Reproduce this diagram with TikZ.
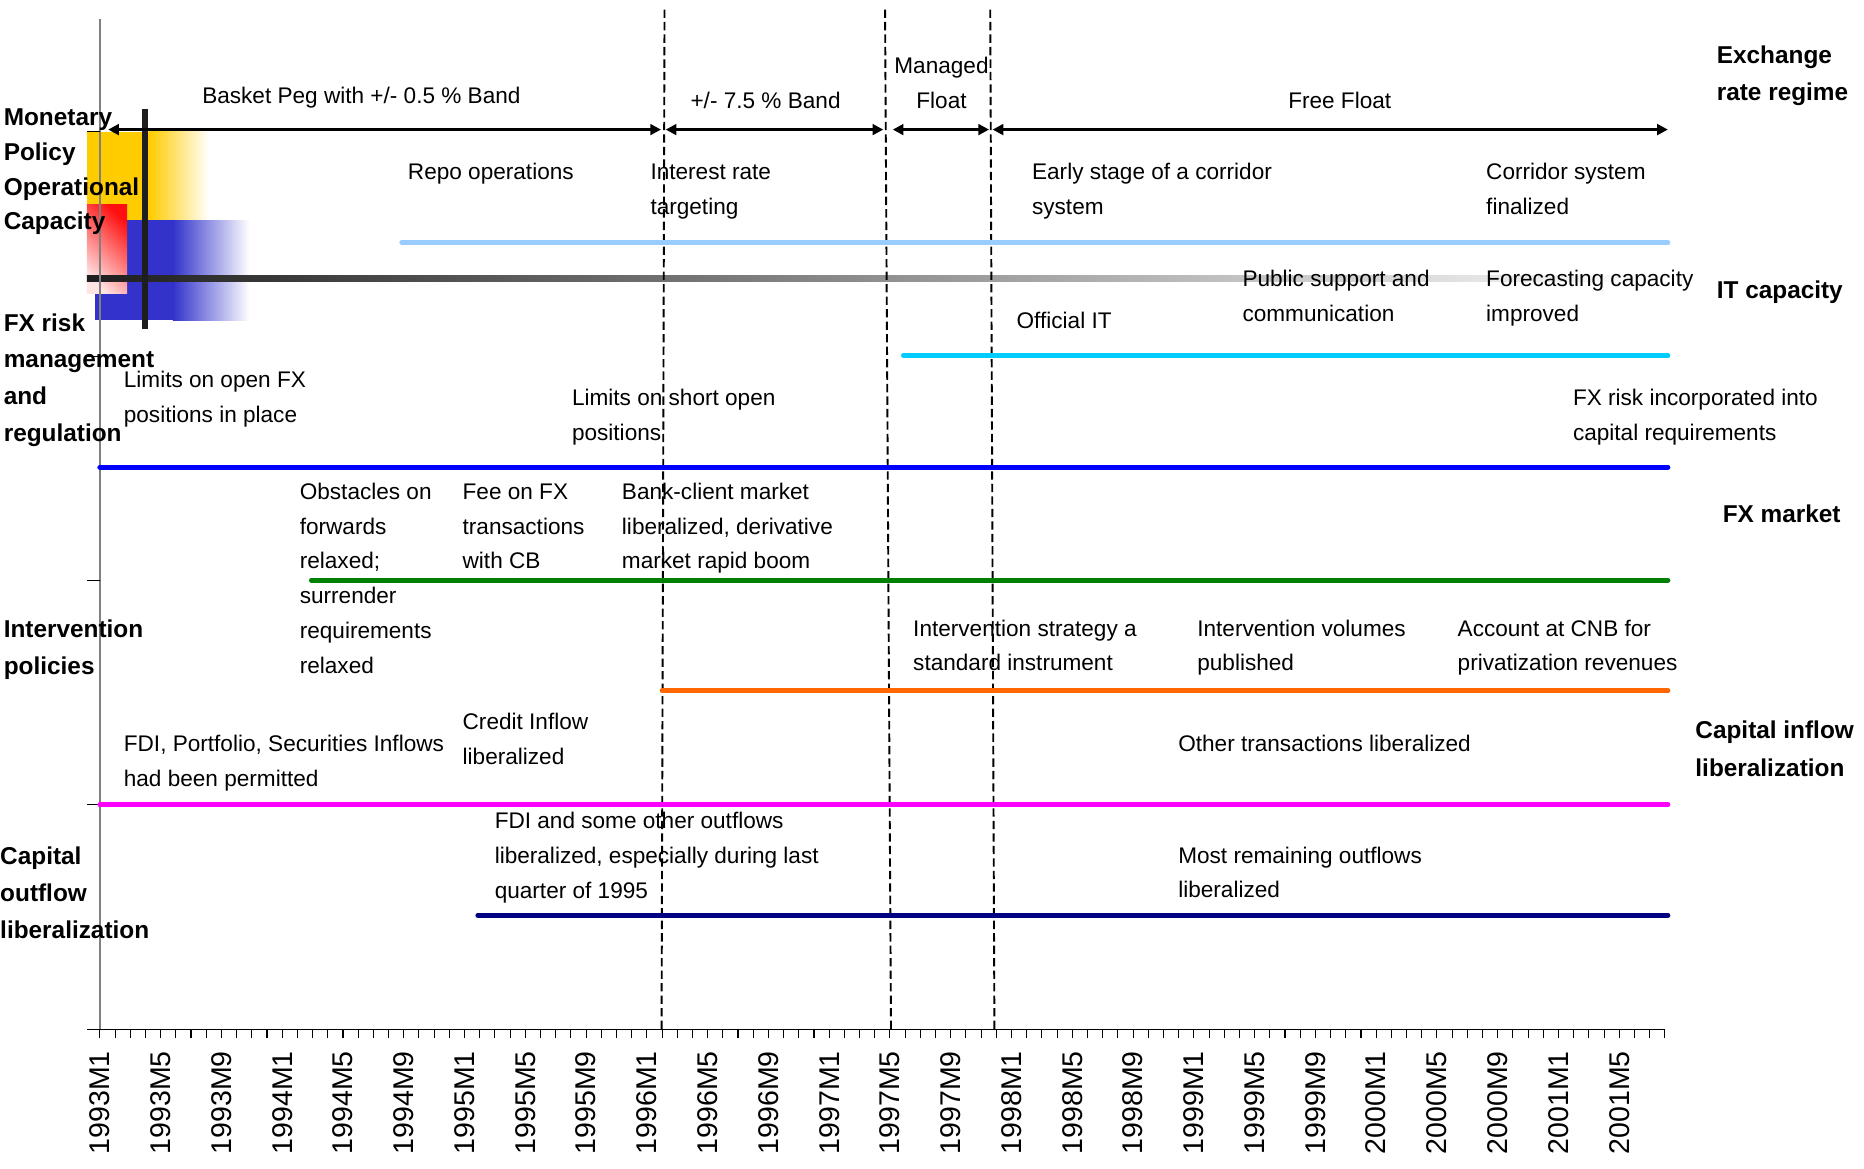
\documentclass[tikz,border=0pt]{standalone}
\usepackage{fontspec}
\setmainfont{Liberation Sans}
\usetikzlibrary{arrows.meta}
\definecolor{cYellow}{HTML}{FFCC00}
\definecolor{cBlueL}{HTML}{3333CC}
\definecolor{cRed}{HTML}{FF1010}
\definecolor{cPink}{HTML}{FFE4E4}
\definecolor{cDark}{HTML}{1E1E1E}
\definecolor{cMid}{HTML}{B0B0B0}
\definecolor{cAxisGray}{HTML}{808080}
\definecolor{cLightBlue}{HTML}{99CCFF}
\definecolor{cCyan}{HTML}{00CCFF}
\definecolor{cBlue}{HTML}{0000FF}
\definecolor{cGreen}{HTML}{008000}
\definecolor{cOrange}{HTML}{FF6600}
\definecolor{cMagenta}{HTML}{FF00FF}
\definecolor{cNavy}{HTML}{000080}
\tikzset{
  lbl/.style={font=\fontsize{19}{29.3}\selectfont, anchor=base west, inner sep=0pt, align=left},
  hdr/.style={font=\bfseries\fontsize{20.5}{31}\selectfont, anchor=base west, inner sep=0pt, align=left},
  monthlbl/.style={font=\fontsize{24}{28}\selectfont, rotate=90, anchor=east, inner sep=0pt},
  tline/.style={line width=4.2pt, line cap=round},
  regarr/.style={{Triangle[length=9pt,width=9pt]}-{Triangle[length=9pt,width=9pt]}, line width=2.2pt},
  vdash/.style={line width=1.6pt, dash pattern=on 7pt off 3.5pt},
}
\begin{document}
\begin{tikzpicture}[x=1pt,y=-1pt]
\useasboundingbox (0,0) rectangle (1568,983);

% ---------- legend graphic (top left)
\fill[cYellow] (73,111) rectangle (126,185);
\shade[left color=cYellow, right color=white] (125.5,111) rectangle (176,185);
\fill[cBlueL] (80,185) rectangle (146,269);
\shade[left color=cBlueL, right color=white] (145.5,185.5) rectangle (210,270);
\shade[top color=cRed, bottom color=cPink, shading angle=-45] (73,172) rectangle (107,247);
\shade[left color=cDark, middle color=cMid, right color=white] (73,231.5) rectangle (1400,236.5);
\draw[cDark, line width=5pt] (122,92) -- (122,277);

% ---------- axes
\draw[cAxisGray, line width=1.2pt] (84,16) -- (84,866);
\draw[black, line width=1pt] (73,866) -- (1401,866);
\foreach \yy in {111,299.5,488,677}
  \draw[black, line width=0.9pt] (73,\yy) -- (84,\yy);
\foreach \m in {0,...,103}
  \draw[black, line width=0.9pt] ({84+\m*12.78125},866) -- ++(0,7.5);
\foreach \k in {0,...,25}{
  \pgfmathtruncatemacro{\mm}{4*\k}
  \pgfmathtruncatemacro{\yr}{1993+floor(\mm/12)}
  \pgfmathtruncatemacro{\mo}{mod(\mm,12)+1}
  \node[monthlbl] (month\k) at ({84+\mm*12.78125},884) {\yr M\mo};
}

% ---------- regime boundaries
\coordinate (b1t) at (559,8);   \coordinate (b1b) at (556.5,866);
\coordinate (b2t) at (744.5,8); \coordinate (b2b) at (749.5,866);
\coordinate (b3t) at (833,8);   \coordinate (b3b) at (836.5,866);
\draw[vdash] (b1t) -- (b1b);
\draw[vdash] (b2t) -- (b2b);
\draw[vdash] (b3t) -- (b3b);

% ---------- regime arrows
\coordinate (r0) at (91,109);
\coordinate (r1a) at (556,109);  \coordinate (r1b) at (560,109);
\coordinate (r2a) at (743,109);  \coordinate (r2b) at (751,109);
\coordinate (r3a) at (832,109);  \coordinate (r3b) at (835,109);
\coordinate (r4) at (1403,109);
\draw[regarr] (r0) -- (r1a);
\draw[regarr] (r1b) -- (r2a);
\draw[regarr] (r2b) -- (r3a);
\draw[regarr] (r3b) -- (r4);

\node[lbl, anchor=base] (basket) at (304,87) {Basket Peg with +/- 0.5 \% Band};
\node[lbl, anchor=base] (band) at (644,91) {+/- 7.5 \% Band};
\node[lbl, anchor=base, align=center] (managed) at (792,91.3) {Managed\\Float};
\node[lbl, anchor=base] (free) at (1127,91) {Free Float};

% ---------- timelines
\draw[tline, cLightBlue] (338,204) -- (1403,204);
\draw[tline, cCyan] (760,299) -- (1403,299);
\draw[tline, cBlue] (84,393) -- (1403,393);
\draw[tline, cGreen] (262,488) -- (1403,488);
\draw[tline, cOrange] (557,581) -- (1403,581);
\draw[tline, cMagenta] (84,677) -- (1403,677);
\draw[tline, cNavy] (402,770) -- (1403,770);

% ---------- event texts (anchored at the baseline of the last line)
\node[lbl] (repo) at (343,151) {Repo operations};
\node[lbl] (irt) at (547,180.3) {Interest rate\\targeting};
\node[lbl] (early) at (868,180.3) {Early stage of a corridor\\system};
\node[lbl] (corr) at (1250,180.3) {Corridor system\\finalized};
\node[lbl] (pub) at (1045,270.3) {Public support and\\communication};
\node[lbl] (fore) at (1250,270.3) {Forecasting capacity\\improved};
\node[lbl] (offit) at (855,276) {Official IT};
\node[lbl] (limopen) at (104,355.3) {Limits on open FX\\positions in place};
\node[lbl] (limshort) at (481,370.3) {Limits on short open\\positions};
\node[lbl] (fxcap) at (1323,370.3) {FX risk incorporated into\\capital requirements};
\node[lbl] (obst) at (252,566.5) {Obstacles on\\forwards\\relaxed;\\surrender\\requirements\\relaxed};
\node[lbl] (fee) at (389,478.6) {Fee on FX\\transactions\\with CB};
\node[lbl] (bank) at (523,478.6) {Bank-client market\\liberalized, derivative\\market rapid boom};
\node[lbl] (intstr) at (768,564.3) {Intervention strategy a\\standard instrument};
\node[lbl] (intvol) at (1007,564.3) {Intervention volumes\\published};
\node[lbl] (cnb) at (1226,564.3) {Account at CNB for\\privatization revenues};
\node[lbl] (credit) at (389,643.3) {Credit Inflow\\liberalized};
\node[lbl] (fdiin) at (104,661.3) {FDI, Portfolio, Securities Inflows\\had been permitted};
\node[lbl] (other) at (991,632) {Other transactions liberalized};
\node[lbl] (fdiout) at (416,755.6) {FDI and some other outflows\\liberalized, especially during last\\quarter of 1995};
\node[lbl] (most) at (991,755.3) {Most remaining outflows\\liberalized};

% ---------- category headers
\node[hdr] (hExch) at (1444,84.5) {Exchange\\rate regime};
\node[hdr] (hIT) at (1444,251.5) {IT capacity};
\node[hdr] (hFXm) at (1449,439.5) {FX market};
\node[hdr, font=\bfseries\fontsize{20.5}{32}\selectfont] (hCapIn) at (1426,653.5) {Capital inflow\\liberalization};
\node[hdr, font=\bfseries\fontsize{20.5}{29.3}\selectfont] (hMon) at (3,193.4) {Monetary\\Policy\\Operational\\Capacity};
\node[hdr] (hFXr) at (3,371.5) {FX risk\\management\\and\\regulation};
\node[hdr] (hInt) at (3,567.5) {Intervention\\policies};
\node[hdr] (hCapOut) at (0,789.5) {Capital\\outflow\\liberalization};
\end{tikzpicture}
\end{document}
